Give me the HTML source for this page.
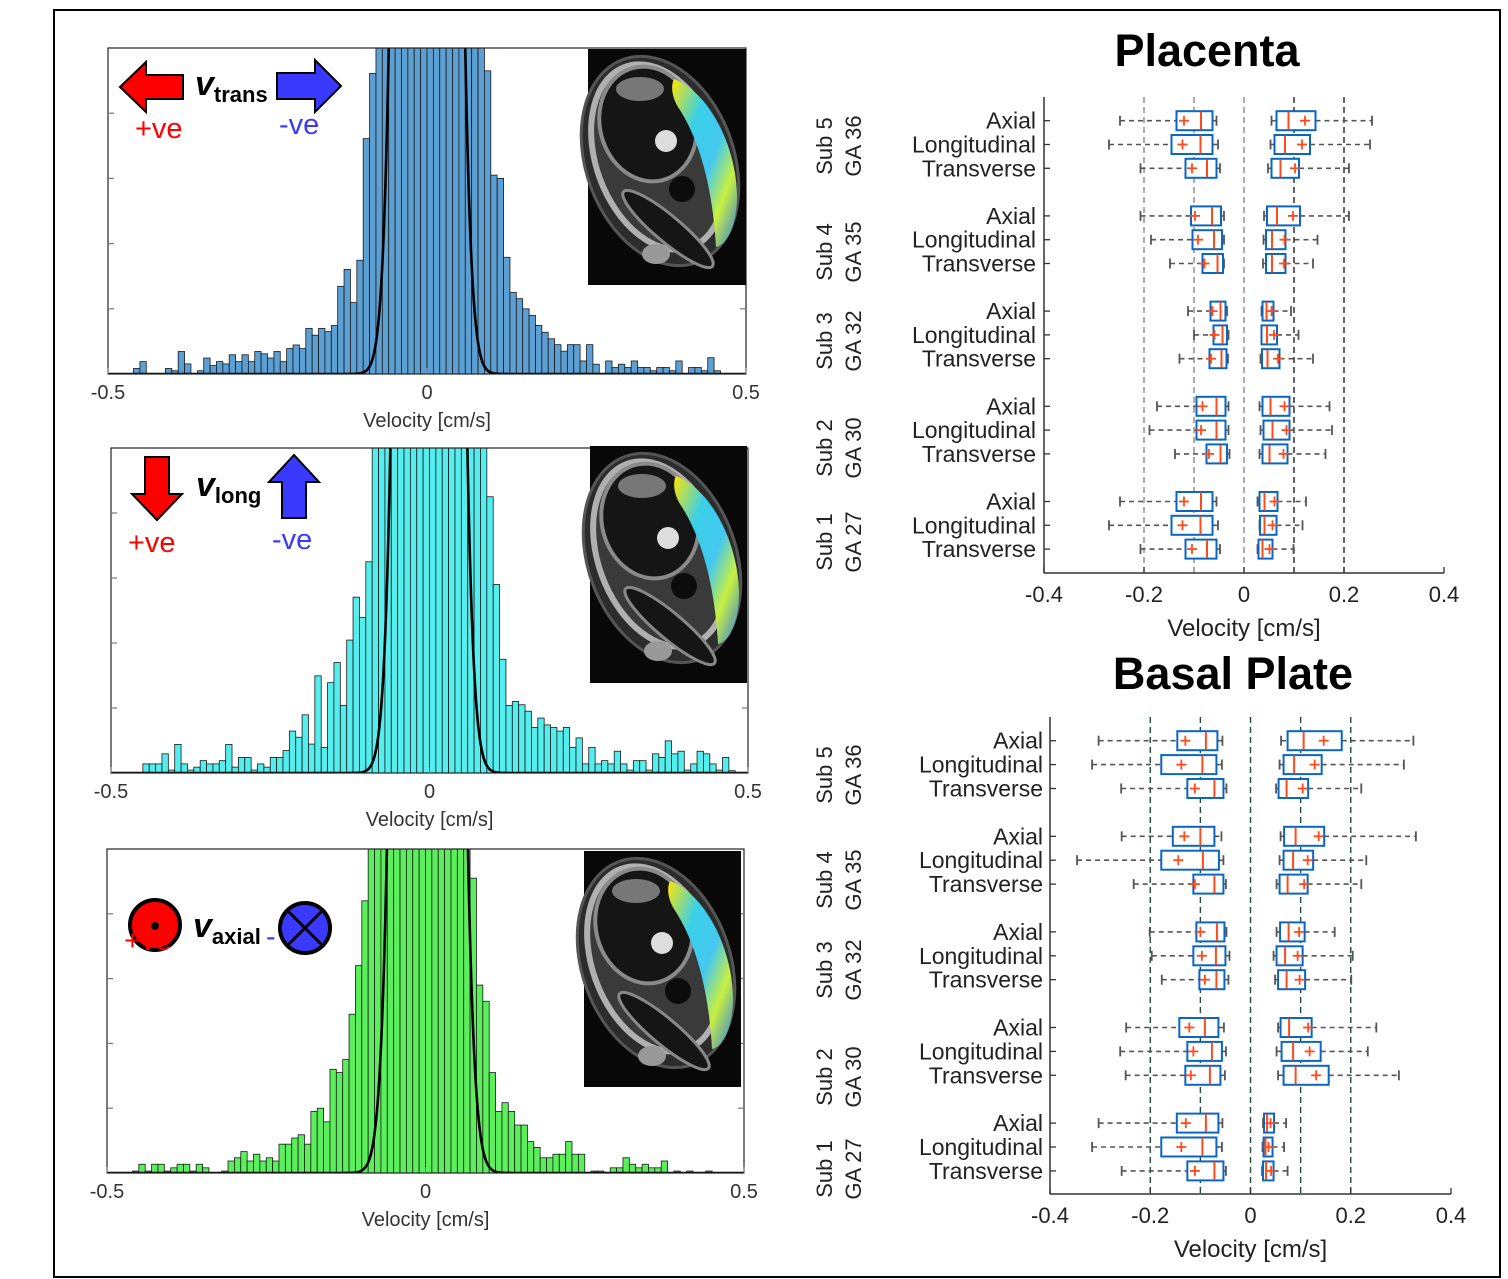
<!DOCTYPE html>
<html><head><meta charset="utf-8"><style>
body{margin:0;background:#fff}
svg{display:block;font-family:"Liberation Sans",sans-serif}
</style></head><body>
<svg id="fig" width="1508" height="1279" viewBox="0 0 1508 1279" xmlns="http://www.w3.org/2000/svg">
<defs>
<linearGradient id="cres" x1="0" y1="0" x2="1" y2="1">
<stop offset="0" stop-color="#ffe600"/><stop offset="0.3" stop-color="#3ad0e8"/><stop offset="0.55" stop-color="#45c8f0"/><stop offset="0.75" stop-color="#c8f040"/><stop offset="1" stop-color="#2a7ae8"/>
</linearGradient>
</defs>
<rect x="54" y="10" width="1446" height="1267" fill="none" stroke="#000" stroke-width="2"/>
<g id="root"></g>
</svg>
<script>
// ---------- Histogram data (relative bin heights, 100 bins of 0.01 from -0.5 to 0.5) ----------
const binEdges0 = -0.5;
const binWidth = 0.01;
const transHist = [0,0,0,0,0.017,0.038,0,0,0,0.017,0.01,0.069,0.031,0,0.01,0.049,0.026,0.038,0.031,0.059,0.038,0.059,0.038,0.069,0.062,0.049,0.069,0.038,0.078,0.089,0.078,0.14,0.119,0.14,0.13,0.149,0.269,0.321,0.219,0.349,0.722,0.922,
1.5,1.5,1.5,1.5,1.5,1.5,1.5,1.5,1.5,1.5,1.5,1.5,1.5,1.5,1.5,1.5,1.5,
0.93,0.61,0.60,0.358,0.25,0.231,0.2,0.18,0.149,0.128,0.108,0.09,0.07,0.09,0.09,0.04,0.09,0.03,0,0.04,0.02,0.03,0.02,0.04,0.02,0.02,0.01,0.02,0.02,0.01,0.04,0,0.02,0.02,0.01,0.05,0.01,0,0,0,0];
const longHist = [0,0,0,0,0,0.028,0.028,0.028,0.059,0.009,0.088,0.028,0.009,0.018,0.038,0.028,0.028,0.038,0.088,0.018,0.048,0.048,0.009,0.028,0.018,0.048,0.048,0.069,0.129,0.11,0.179,0.089,0.299,0.079,0.278,0.34,0.208,0.409,0.541,0.479,0.65,
1.5,1.5,1.5,1.5,1.5,1.5,1.5,1.5,1.5,1.5,1.5,1.5,1.5,1.5,1.5,1.5,1.5,1.5,
0.85,0.58,0.35,0.208,0.22,0.21,0.19,0.14,0.169,0.148,0.14,0.129,0.14,0.079,0.108,0.028,0.079,0.028,0.038,0.028,0.067,0.028,0.009,0.038,0.038,0.009,0.059,0.048,0.099,0.059,0.067,0.009,0.028,0.067,0.059,0.028,0.009,0.048,0.007,0,0];
const axialHist = [0,0,0,0,0.006,0.027,0.006,0.027,0.027,0.006,0.016,0.027,0.027,0.006,0.027,0.016,0,0,0.006,0.037,0.047,0.066,0.037,0.058,0.037,0.047,0.037,0.089,0.089,0.108,0.118,0.089,0.19,0.2,0.158,0.32,0.31,0.35,0.49,0.64,0.84,
1.5,1.5,1.5,1.5,1.5,1.5,1.5,1.5,1.5,1.5,1.5,1.5,1.5,1.5,1.5,1.5,
0.91,0.58,0.53,0.31,0.19,0.217,0.19,0.148,0.148,0.097,0.079,0.047,0.047,0.058,0.058,0.097,0.058,0.058,0,0.006,0.006,0,0.016,0.016,0.047,0.027,0.016,0.027,0.016,0.016,0.037,0,0.006,0,0.006,0,0,0.006,0,0,0,0,0];
const histTicks = [-0.5, 0, 0.5];
const histTickLabels = ["-0.5", "0", "0.5"];
const fitAmp = [20, 20, 20];
const fitMu = [0, -0.001, 0.003];
const fitTwoSigmaSq = [0.0012, 0.00122, 0.00135];

// ---------- Box plot data: [whiskerLow, q1, median, q3, whiskerHigh, mean] ----------
const rowNames = ["Axial", "Longitudinal", "Transverse"];
const subjects = ["Sub 5", "Sub 4", "Sub 3", "Sub 2", "Sub 1"];
const gestAges = ["GA 36", "GA 35", "GA 32", "GA 30", "GA 27"];
const boxTicks = [-0.4, -0.2, 0, 0.2, 0.4];
const boxTickLabels = ["-0.4", "-0.2", "0", "0.2", "0.4"];
const gridVals = [-0.2, -0.1, 0, 0.1, 0.2];
const placentaNeg = [
[-0.248,-0.135,-0.086,-0.063,-0.055,-0.12],[-0.27,-0.145,-0.087,-0.063,-0.052,-0.123],[-0.207,-0.117,-0.074,-0.055,-0.048,-0.104],
[-0.207,-0.106,-0.064,-0.046,-0.04,-0.098],[-0.186,-0.103,-0.06,-0.044,-0.04,-0.092],[-0.148,-0.083,-0.053,-0.042,-0.04,-0.079],
[-0.112,-0.067,-0.047,-0.037,-0.034,-0.063],[-0.1,-0.061,-0.043,-0.034,-0.031,-0.059],[-0.129,-0.069,-0.045,-0.035,-0.032,-0.066],
[-0.174,-0.095,-0.055,-0.037,-0.031,-0.083],[-0.189,-0.095,-0.055,-0.037,-0.031,-0.086],[-0.138,-0.075,-0.047,-0.034,-0.029,-0.07],
[-0.248,-0.135,-0.086,-0.063,-0.055,-0.12],[-0.27,-0.145,-0.087,-0.063,-0.052,-0.123],[-0.207,-0.117,-0.074,-0.055,-0.048,-0.104]];
const placentaPos = [
[0.055,0.065,0.089,0.143,0.256,0.122],[0.053,0.061,0.082,0.132,0.252,0.116],[0.048,0.055,0.073,0.11,0.21,0.102],
[0.04,0.046,0.066,0.112,0.21,0.098],[0.039,0.044,0.056,0.083,0.147,0.081],[0.038,0.044,0.056,0.083,0.138,0.08],
[0.035,0.037,0.045,0.059,0.094,0.055],[0.035,0.035,0.046,0.066,0.109,0.06],[0.033,0.036,0.047,0.071,0.138,0.068],
[0.031,0.037,0.053,0.091,0.171,0.081],[0.033,0.039,0.057,0.091,0.176,0.085],[0.031,0.037,0.051,0.087,0.163,0.079],
[0.027,0.031,0.041,0.067,0.124,0.061],[0.031,0.032,0.041,0.065,0.117,0.057],[0.027,0.029,0.037,0.057,0.099,0.051]];
const basalNeg = [
[-0.303,-0.146,-0.089,-0.066,-0.056,-0.13],[-0.316,-0.178,-0.096,-0.068,-0.057,-0.138],[-0.258,-0.126,-0.072,-0.054,-0.048,-0.111],
[-0.257,-0.155,-0.1,-0.072,-0.058,-0.132],[-0.346,-0.178,-0.095,-0.063,-0.054,-0.144],[-0.233,-0.114,-0.072,-0.054,-0.049,-0.111],
[-0.201,-0.108,-0.067,-0.052,-0.048,-0.1],[-0.197,-0.114,-0.069,-0.05,-0.042,-0.097],[-0.177,-0.102,-0.068,-0.052,-0.044,-0.091],
[-0.248,-0.142,-0.091,-0.064,-0.053,-0.122],[-0.26,-0.126,-0.077,-0.057,-0.049,-0.114],[-0.249,-0.13,-0.081,-0.06,-0.051,-0.119],
[-0.303,-0.147,-0.089,-0.064,-0.056,-0.129],[-0.316,-0.178,-0.096,-0.068,-0.057,-0.138],[-0.257,-0.126,-0.072,-0.054,-0.049,-0.111]];
const basalPos = [
[0.061,0.074,0.106,0.182,0.325,0.146],[0.058,0.066,0.087,0.142,0.306,0.128],[0.051,0.056,0.072,0.115,0.221,0.104],
[0.06,0.067,0.09,0.147,0.33,0.136],[0.058,0.066,0.085,0.125,0.231,0.114],[0.052,0.058,0.074,0.114,0.221,0.107],
[0.052,0.059,0.076,0.108,0.168,0.097],[0.046,0.052,0.069,0.104,0.204,0.094],[0.049,0.055,0.072,0.109,0.201,0.098],
[0.055,0.06,0.077,0.122,0.251,0.115],[0.052,0.062,0.085,0.14,0.234,0.118],[0.055,0.066,0.09,0.156,0.296,0.131],
[0.025,0.027,0.033,0.047,0.071,0.04],[0.024,0.026,0.03,0.044,0.067,0.036],[0.023,0.025,0.031,0.046,0.074,0.041]];

const NS = "http://www.w3.org/2000/svg";
const root = document.getElementById("root");
function mk(tag, attrs, parent) {
  const e = document.createElementNS(NS, tag);
  for (const k in attrs) e.setAttribute(k, attrs[k]);
  (parent || root).appendChild(e);
  return e;
}
function txt(s, attrs, parent) { const t = mk("text", attrs, parent); t.textContent = s; return t; }

// ---------- Histograms ----------
function histogram(id, data, color, x0, x1, yTop, yBot, k) {
  const g = mk("g", {});
  
  
  const xs = v => x0 + (v + 0.5) * (x1 - x0);
  const h = yBot - yTop;
  const ys = f => yBot - f * h;
  mk("clipPath", {id: "clip-" + id}, g);
  mk("rect", {x: x0, y: yTop, width: x1 - x0, height: h}, g.lastChild);
  const bars = mk("g", {"clip-path": "url(#clip-" + id + ")"}, g);
  data.forEach((f, i) => {
    if (f <= 0) return;
    const a = binEdges0 + i * binWidth;
    const r = mk("rect", {x: xs(a), y: ys(f), width: xs(a + binWidth) - xs(a), height: yBot - ys(f), fill: color, stroke: "#1a1a1a", "stroke-width": 0.8}, bars);
    
    
  });
  let d = "";
  for (let v = -0.5; v <= 0.5001; v += 0.001) {
    const y = fitAmp[k] * Math.exp(-Math.pow(v - fitMu[k], 2) / fitTwoSigmaSq[k]);
    d += (d ? "L" : "M") + xs(v).toFixed(2) + "," + ys(Math.min(y, 1.2)).toFixed(2);
  }
  const fit = mk("path", {d: d, fill: "none", stroke: "#000", "stroke-width": 2.6}, bars);
  
  
  const frame = mk("rect", {x: x0, y: yTop, width: x1 - x0, height: h, fill: "none", stroke: "#222", "stroke-width": 1.2}, g);
  
  
  [0.2, 0.4, 0.6, 0.8].forEach(f => {
    mk("line", {x1: x0, x2: x0 + 6, y1: ys(f), y2: ys(f), stroke: "#777", "stroke-width": 1.2}, g);
    mk("line", {x1: x1, x2: x1 - 6, y1: ys(f), y2: ys(f), stroke: "#777", "stroke-width": 1.2}, g);
  });
  histTicks.forEach((v, i) => {
    mk("line", {x1: xs(v), x2: xs(v), y1: yBot, y2: yBot - 6, stroke: "#777"}, g);
    const t = txt(histTickLabels[i], {x: xs(v), y: yBot + 25, "font-size": 20, fill: "#333", "text-anchor": "middle"}, g);
    
    
  });
  const xt = txt("Velocity [cm/s]", {x: (x0 + x1) / 2, y: yBot + 53, "font-size": 20, fill: "#333", "text-anchor": "middle"}, g);
  
  
}
histogram("trans", transHist, "#5b9fd3", 108, 746, 48, 374, 0);
histogram("long", longHist, "#55eeee", 111, 748, 448, 773, 1);
histogram("axial", axialHist, "#5cef5c", 107, 744, 849, 1173, 2);

// ---------- MRI insets (approximations) ----------
function inset(x, y, w, hgt, id) {
  const g = mk("g", {transform: "translate(" + x + "," + y + ")"});
  
  
  mk("rect", {x: 0, y: 0, width: w, height: hgt, fill: "#080808"}, g);
  mk("ellipse", {cx: 72, cy: 112, rx: 74, ry: 108, fill: "#2c2c2c", stroke: "#555", "stroke-width": 3, transform: "rotate(-20 72 112)"}, g);
  mk("ellipse", {cx: 70, cy: 108, rx: 62, ry: 96, fill: "#3a3a3a", stroke: "#b0b0b0", "stroke-width": 6, transform: "rotate(-20 70 108)"}, g);
  mk("ellipse", {cx: 60, cy: 75, rx: 48, ry: 58, fill: "#151515", stroke: "#8a8a8a", "stroke-width": 4, transform: "rotate(-15 60 75)"}, g);
  mk("ellipse", {cx: 52, cy: 40, rx: 24, ry: 12, fill: "#777"}, g);
  mk("circle", {cx: 78, cy: 92, r: 11, fill: "#ddd"}, g);
  mk("circle", {cx: 94, cy: 140, r: 13, fill: "#0c0c0c"}, g);
  mk("ellipse", {cx: 80, cy: 180, rx: 58, ry: 13, fill: "#151515", stroke: "#888", "stroke-width": 3, transform: "rotate(40 80 180)"}, g);
  mk("ellipse", {cx: 68, cy: 205, rx: 14, ry: 10, fill: "#999"}, g);
  mk("path", {d: "M86,30 C125,45 150,105 149,150 C148,180 138,196 128,198 C126,160 118,100 90,58 C85,50 82,38 86,30 Z", fill: "url(#cres)"}, g);
}
inset(588, 49, 158, 236, "mri-inset-trans");
inset(590, 446, 157, 237, "mri-inset-long");
inset(584, 851, 157, 236, "mri-inset-axial");

// ---------- Direction legends ----------
function legendG(name) { const g = mk("g", {});   return g; }
function vLabel(g, x, y, sub) {
  const t = mk("text", {x: x, y: y, "font-size": 34, "font-weight": "bold", fill: "#000"}, g);
  const a = mk("tspan", {"font-style": "italic"}, t); a.textContent = "v";
  const b = mk("tspan", {"font-size": 22, dy: 7}, t); b.textContent = sub;
}
let lg = legendG("legend-trans");
mk("polygon", {points: "120,87 146,62 146,75 183,75 183,99 146,99 146,112", fill: "#f00", stroke: "#000", "stroke-width": 2}, lg);
mk("polygon", {points: "341,86 315,60 315,73 277,73 277,99 315,99 315,112", fill: "#3a3aff", stroke: "#000", "stroke-width": 2}, lg);
vLabel(lg, 195, 95, "trans");
txt("+ve", {x: 135, y: 138, "font-size": 29, fill: "#f00"}, lg);
txt("-ve", {x: 279, y: 134, "font-size": 29, fill: "#3a3aff"}, lg);

lg = legendG("legend-long");
mk("polygon", {points: "157,520 132,494 145,494 145,457 169,457 169,494 182,494", fill: "#f00", stroke: "#000", "stroke-width": 2}, lg);
mk("polygon", {points: "294,455 269,482 282,482 282,518 306,518 306,482 319,482", fill: "#3a3aff", stroke: "#000", "stroke-width": 2}, lg);
vLabel(lg, 196, 496, "long");
txt("+ve", {x: 128, y: 552, "font-size": 29, fill: "#f00"}, lg);
txt("-ve", {x: 272, y: 549, "font-size": 29, fill: "#3a3aff"}, lg);

lg = legendG("legend-axial");
mk("circle", {cx: 155, cy: 925, r: 25, fill: "#f00", stroke: "#000", "stroke-width": 4}, lg);
mk("circle", {cx: 155, cy: 926, r: 4, fill: "#000"}, lg);
txt("+ve", {x: 124, y: 950, "font-size": 29, fill: "#f00"}, lg);
vLabel(lg, 193, 937, "axial");
mk("circle", {cx: 305, cy: 928, r: 25, fill: "#3a3aff", stroke: "#000", "stroke-width": 4}, lg);
mk("line", {x1: 288, y1: 911, x2: 322, y2: 945, stroke: "#000", "stroke-width": 3}, lg);
mk("line", {x1: 322, y1: 911, x2: 288, y2: 945, stroke: "#000", "stroke-width": 3}, lg);
txt("-", {x: 266, y: 946, "font-size": 29, fill: "#3a3aff"}, lg);

// ---------- Box plots ----------
function boxPanel(id, title, titleX, titleY, negData, posData, x0, x1, yTop, yBot, row0, rowStep, gridColors, labelX, subYs) {
  const g = mk("g", {});
  
  
  const xs = v => x0 + (v + 0.4) / 0.8 * (x1 - x0);
  const rowY = r => row0 + (Math.floor(r / 3) * 4 + r % 3) * rowStep;
  const tt = txt(title, {x: titleX, y: titleY, "font-size": 45, "font-weight": "bold", fill: "#000", "text-anchor": "middle"}, g);
  
  
  gridVals.forEach((v, i) => {
    mk("line", {x1: xs(v), x2: xs(v), y1: yTop, y2: yBot, stroke: gridColors[i], "stroke-width": 1.4, "stroke-dasharray": "6,4"}, g);
  });
  mk("line", {x1: x0, x2: x0, y1: yTop, y2: yBot, stroke: "#333", "stroke-width": 1.5}, g);
  mk("line", {x1: x0, x2: x1, y1: yBot, y2: yBot, stroke: "#333", "stroke-width": 1.5}, g);
  boxTicks.forEach((v, i) => {
    mk("line", {x1: xs(v), x2: xs(v), y1: yBot, y2: yBot - 6, stroke: "#333", "stroke-width": 1.3}, g);
    const t = txt(boxTickLabels[i], {x: xs(v), y: yBot + 29, "font-size": 22, fill: "#222", "text-anchor": "middle"}, g);
    
    
  });
  const xt = txt("Velocity [cm/s]", {x: (x0 + x1) / 2, y: yBot + 63, "font-size": 24, fill: "#222", "text-anchor": "middle"}, g);
  
  
  for (let r = 0; r < 15; r++) {
    const y = rowY(r);
    mk("line", {x1: x0, x2: x0 + 6, y1: y, y2: y, stroke: "#333", "stroke-width": 1.3}, g);
    const rl = txt(rowNames[r % 3], {x: labelX, y: y + 8, "font-size": 23, fill: "#222", "text-anchor": "end"}, g);
    
    
    [negData[r], posData[r]].forEach(s => {
      const bg = mk("g", {}, g);
      
      
      const dash = {stroke: "#555", "stroke-width": 1.6, "stroke-dasharray": "5,4"};
      mk("line", Object.assign({x1: xs(s[0]), x2: xs(s[1]), y1: y, y2: y}, dash), bg);
      mk("line", Object.assign({x1: xs(s[3]), x2: xs(s[4]), y1: y, y2: y}, dash), bg);
      mk("line", {x1: xs(s[0]), x2: xs(s[0]), y1: y - 5, y2: y + 5, stroke: "#555", "stroke-width": 1.8}, bg);
      mk("line", {x1: xs(s[4]), x2: xs(s[4]), y1: y - 5, y2: y + 5, stroke: "#555", "stroke-width": 1.8}, bg);
      mk("rect", {x: xs(s[1]), y: y - 9.5, width: xs(s[3]) - xs(s[1]), height: 19, fill: "#fff", stroke: "#0a66c2", "stroke-width": 2}, bg);
      mk("line", {x1: xs(s[2]), x2: xs(s[2]), y1: y - 9, y2: y + 9, stroke: "#ff4a1c", "stroke-width": 2}, bg);
      mk("line", {x1: xs(s[5]) - 5, x2: xs(s[5]) + 5, y1: y, y2: y, stroke: "#ff4a1c", "stroke-width": 1.8}, bg);
      mk("line", {x1: xs(s[5]), x2: xs(s[5]), y1: y - 5, y2: y + 5, stroke: "#ff4a1c", "stroke-width": 1.8}, bg);
    });
  }
  subjects.forEach((s, i) => {
    const cy = subYs[i];
    const a = txt(s, {x: 0, y: 0, "font-size": 22, fill: "#222", "text-anchor": "middle", transform: "translate(832," + cy + ") rotate(-90)"}, g);
    
    
    const b = txt(gestAges[i], {x: 0, y: 0, "font-size": 22, fill: "#222", "text-anchor": "middle", transform: "translate(861," + cy + ") rotate(-90)"}, g);
    
    
  });
}
boxPanel("placenta", "Placenta", 1207, 66, placentaNeg, placentaPos, 1044, 1444, 97, 573, 120.7, 23.8,
  ["#888", "#888", "#888", "#222", "#222"], 1036, [146, 252, 341, 448, 542]);
boxPanel("basal-plate", "Basal Plate", 1233, 689, basalNeg, basalPos, 1050, 1451, 717, 1194, 740.7, 23.9,
  ["#1d4a3a", "#1d4a3a", "#1d4a3a", "#1d4a3a", "#1d4a3a"], 1043, [775, 880, 970, 1077, 1169]);
</script>
</body></html>
